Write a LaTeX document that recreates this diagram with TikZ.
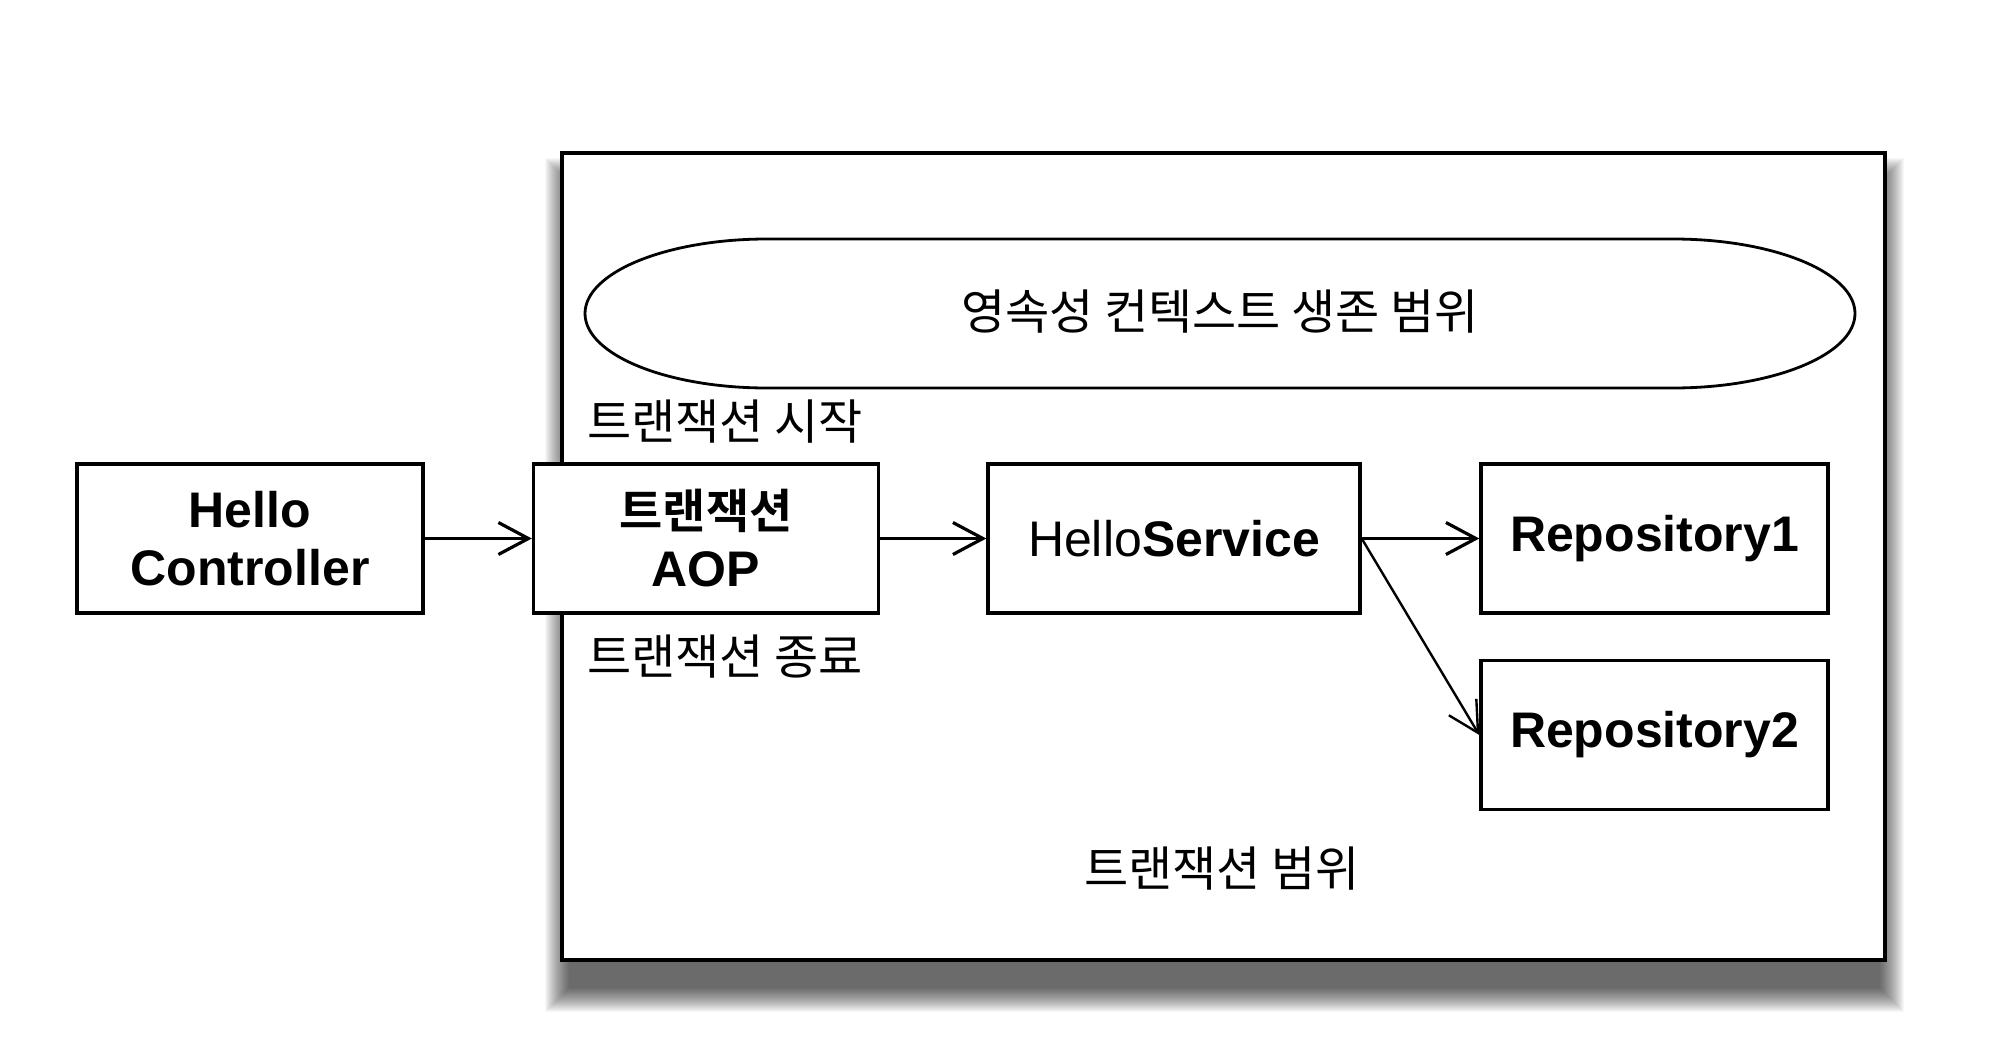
\documentclass[tikz,border=0pt]{standalone}
\usepackage{fontspec}
\setmainfont{Liberation Sans}
\newfontfamily\kr{Noto Sans CJK KR}[BoldFont={Noto Sans CJK KR Bold}]
\usetikzlibrary{arrows.meta}
\tikzset{
  blk/.style={draw=black, line width=3.4pt, fill=white, minimum width=346pt, minimum height=149pt,
    align=center, inner sep=0pt, font=\fontsize{50}{58}\selectfont\bfseries},
  lbl/.style={inner sep=0pt, font=\fontsize{48}{56}\selectfont\kr},
  conn/.style={line width=3.2pt, -{Straight Barb[length=30pt,width=32pt,line width=3.2pt]}},
  thinconn/.style={line width=2.4pt, -{Straight Barb[length=30pt,width=32pt,line width=2.4pt]}}
}
\begin{document}
\begin{tikzpicture}[x=1pt,y=-1pt]
\useasboundingbox (0,0) rectangle (2000,1046);
\fill[white] (0,0) rectangle (2000,1046);
% shadow of the big frame
\foreach \i in {0,...,24}{
  \fill[black,opacity=0.03] (545+\i,158+\i) rectangle (1904-\i,1012-\i);
}
\node[draw=black, line width=3.6pt, fill=white, minimum width=1323pt, minimum height=807pt, inner sep=0pt] (frame) at (1223.5,556.5) {};
% persistence context region (flattened ellipse)
\draw[line width=2.8pt] (767,239) -- (1673,239)
   arc[start angle=-90, end angle=90, x radius=182, y radius=74.5]
   -- (767,388)
   arc[start angle=90, end angle=270, x radius=182, y radius=74.5] -- cycle;
\node[lbl] (pctext) at (1220,312) {영속성 컨텍스트 생존 범위};
% labels
\node[lbl, anchor=west] (txstart) at (587,422) {트랜잭션 시작};
\node[lbl, anchor=west] (txend) at (587,657) {트랜잭션 종료};
\node[lbl] (txscope) at (1222,869) {트랜잭션 범위};
% boxes
\node[blk] (hc) at (250,538.5) {Hello\\Controller};
\node[blk, minimum width=345pt] (aop) at (706,538.5) {{\fontsize{47}{58}\selectfont\kr\bfseries 트랜잭션}\\AOP};
\node[blk, minimum width=372pt] (hs) at (1174,538.5) {\mdseries Hello\bfseries Service};
\node[blk, minimum width=347pt] (r1) at (1654.5,538.5) {Repository1};
\node[blk, minimum width=347pt] (r2) at (1654.5,735) {Repository2};
% connectors
\draw[conn] (hc.east) -- (aop.west);
\draw[conn] (aop.east) -- (hs.west);
\draw[conn] (hs.east) -- (r1.west);
\draw[thinconn] (hs.east) -- (r2.west);
\end{tikzpicture}
\end{document}
